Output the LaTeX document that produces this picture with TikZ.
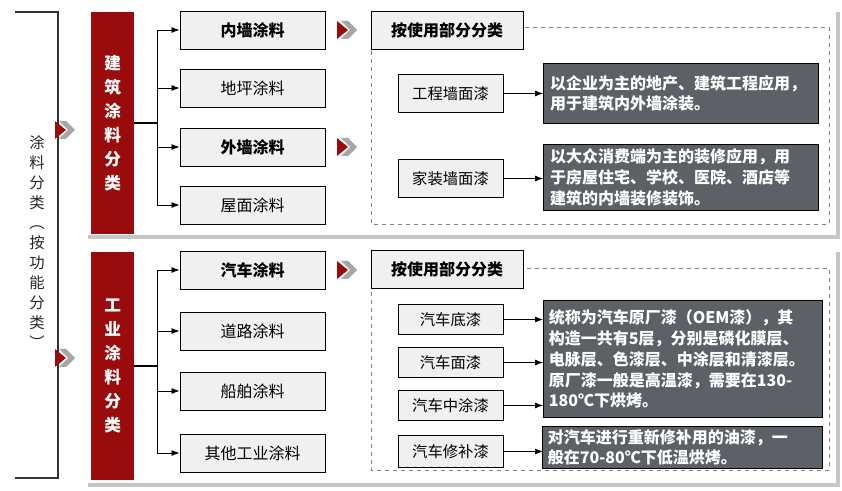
\documentclass[tikz,border=0pt]{standalone}
\usepackage{fontspec}
\setmainfont{Noto Sans CJK SC}
\usetikzlibrary{arrows.meta}
\definecolor{dred}{HTML}{9A0C0C}
\definecolor{dgray}{HTML}{5B6166}
\definecolor{lbox}{HTML}{F0F0F0}
\tikzset{
 x=0.75pt,y=-0.75pt,
 item/.style={draw=black,fill=lbox,line width=0.7pt,minimum width=108.75pt,minimum height=28.5pt,font=\fontsize{12}{14}\selectfont,inner sep=0pt},
 sub/.style={draw=black,fill=lbox,line width=0.7pt,minimum width=78.75pt,minimum height=26pt,font=\fontsize{11.5}{13}\selectfont,inner sep=0pt},
 desc/.style={draw=black,fill=dgray,text=white,line width=0.7pt,align=left,font=\bfseries\fontsize{12}{15.6}\selectfont,inner sep=0pt,anchor=north west},
 redbar/.style={fill=dred,draw=none,text=white,font=\bfseries\fontsize{12.5}{18}\selectfont,align=center,minimum width=32pt,anchor=north west},
 arr/.style={-{Latex[length=6pt,width=4.5pt]},line width=0.6pt},
 pics/chev/.style={code={
   \fill[gray!70] (4,-9) -- (11,-9) -- (20,0) -- (11,9) -- (4,9) -- (13,0) -- cycle;
   \fill[dred] (0,-9) -- (11,0) -- (0,9) -- cycle;}}
}
\begin{document}
\begin{tikzpicture}
\useasboundingbox (0,0) rectangle (842,491);
\fill[white] (0,0) rectangle (842,491);
% bracket
\draw[line width=0.8pt,black!80] (15,12) -- (58,12) -- (58,478) -- (15,478);
\node[font=\fontsize{11.5}{15}\selectfont,align=center,text=black!85] (lbl) at (37,242) {涂\\料\\分\\类\\︵\\按\\功\\能\\分\\类\\︶};
\pic at (55,130) {chev};
\pic at (55,358) {chev};
% panels
\fill[gray!45] (88,12) rectangle (840,239);
\fill[white] (84,8) rectangle (836,235);
\fill[gray!45] (88,252) rectangle (840,487);
\fill[white] (84,248) rectangle (836,483);
% red bars
\node[redbar,minimum height=166pt] (b1) at (91,12) {建\\筑\\涂\\料\\分\\类};
\node[redbar,minimum height=171pt] (b2) at (91,252) {工\\业\\涂\\料\\分\\类};
% top items
\node[item,font=\bfseries\fontsize{12}{14}\selectfont] (i1) at (252.5,30) {内墙涂料};
\node[item] (i2) at (252.5,88) {地坪涂料};
\node[item,font=\bfseries\fontsize{12}{14}\selectfont] (i3) at (252.5,147) {外墙涂料};
\node[item] (i4) at (252.5,205) {屋面涂料};
\coordinate (t1) at (157,123);
\draw[line width=1pt] (b1.east |- t1) -- (t1);
\draw[line width=0.6pt] (157,30) -- (157,205);
\foreach \n in {i1,i2,i3,i4} \draw[arr] (157,0 |- \n.west) -- (\n.west);
% bottom items
\node[item,font=\bfseries\fontsize{12}{14}\selectfont] (j1) at (252.5,270) {汽车涂料};
\node[item] (j2) at (252.5,331) {道路涂料};
\node[item] (j3) at (252.5,391) {船舶涂料};
\node[item] (j4) at (252.5,453) {其他工业涂料};
\coordinate (t2) at (157,366);
\draw[line width=1pt] (b2.east |- t2) -- (t2);
\draw[line width=0.6pt] (157,270) -- (157,453);
\foreach \n in {j1,j2,j3,j4} \draw[arr] (157,0 |- \n.west) -- (\n.west);
% chevrons
\pic at (337,30) {chev};
\pic at (337,147) {chev};
\pic at (337,270) {chev};
% top right
\draw[dashed,gray,line width=0.5pt] (371,27) rectangle (829,224);
\node[item,minimum width=114pt,font=\bfseries\fontsize{12}{14}\selectfont] (h1) at (447,30.5) {按使用部分分类};
\node[sub,minimum height=28pt] (s1) at (450.5,93.5) {工程墙面漆};
\node[sub,minimum height=28pt] (s2) at (450.5,178.5) {家装墙面漆};
\node[desc,minimum width=206pt,minimum height=45pt,text width=204pt] (d1) at (543,63) {\hspace*{4pt}以企业为主的地产、建筑工程应用，\\\hspace*{4pt}用于建筑内外墙涂装。};
\node[desc,minimum width=206pt,minimum height=49.5pt,text width=204pt] (d2) at (543,144) {\hspace*{4pt}以大众消费端为主的装修应用，用\\\hspace*{4pt}于房屋住宅、学校、医院、酒店等\\\hspace*{4pt}建筑的内墙装修装饰。};
\draw[arr] (s1.east) -- (s1.east -| d1.west);
\draw[arr] (s2.east) -- (s2.east -| d2.west);
% bottom right
\draw[dashed,gray,line width=0.5pt] (371,268) rectangle (829,470);
\node[item,minimum width=114pt,font=\bfseries\fontsize{12}{14}\selectfont] (h2) at (447,269.5) {按使用部分分类};
\node[sub,minimum height=22pt] (c1) at (450.5,319.5) {汽车底漆};
\node[sub,minimum height=22pt] (c2) at (450.5,362.5) {汽车面漆};
\node[sub,minimum height=22pt] (c3) at (450.5,405.5) {汽车中涂漆};
\node[sub,minimum height=24pt] (c4) at (450.5,451.5) {汽车修补漆};
\node[desc,minimum width=209pt,minimum height=88pt,text width=209pt] (d3) at (543,300) {\hspace*{4pt}统称为汽车原厂漆（OEM漆），其\\\hspace*{4pt}构造一共有5层，分别是磷化膜层、\\\hspace*{4pt}电脉层、色漆层、中涂层和清漆层。\\\hspace*{4pt}原厂漆一般是高温漆，需要在130-\\\hspace*{4pt}180℃下烘烤。};
\node[desc,minimum width=210pt,minimum height=31.5pt,text width=210pt] (d4) at (542,426) {\hspace*{4pt}对汽车进行重新修补用的油漆，一\\\hspace*{4pt}般在70-80℃下低温烘烤。};
\foreach \n in {c1,c2,c3,c4} \draw[arr] (\n.east) -- (\n.east -| d3.west);
\end{tikzpicture}
\end{document}
